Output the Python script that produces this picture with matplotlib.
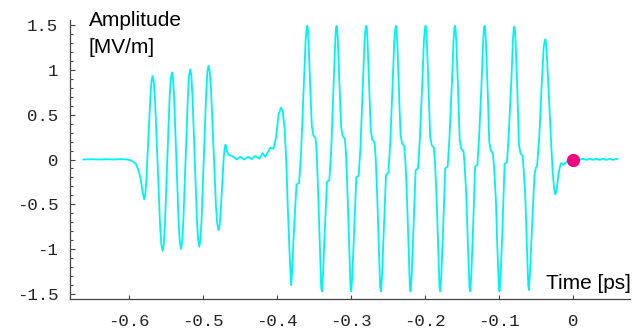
import numpy as np
import matplotlib
matplotlib.use("Agg")
import matplotlib.pyplot as plt
import matplotlib.ticker as ticker

# values (time in ps, amplitude in MV/m)
pre_t = [-0.6610, -0.6500, -0.6400, -0.6300, -0.6200, -0.6100, -0.6020]
pre_v = [0.000, 0.003, 0.000, 0.003, 0.000, 0.004, 0.000]

packet1_t = [-0.5970, -0.5930, -0.5900, -0.5865, -0.5835, -0.5810, -0.5788,
             -0.5774, -0.5760, -0.5732, -0.5703, -0.5689, -0.5675,
             -0.5658, -0.5641, -0.5608, -0.5574, -0.5557, -0.5540,
             -0.5524, -0.5509, -0.5477, -0.5446, -0.5430, -0.5414,
             -0.5399, -0.5384, -0.5353, -0.5323, -0.5307, -0.5292,
             -0.5276, -0.5261, -0.5230, -0.5198, -0.5183, -0.5167,
             -0.5152, -0.5137, -0.5106, -0.5076, -0.5060, -0.5045,
             -0.5029, -0.5014, -0.4983, -0.4951, -0.4936, -0.4920,
             -0.4903, -0.4886, -0.4853, -0.4819, -0.4802, -0.4785,
             -0.4773, -0.4761, -0.4738, -0.4714, -0.4702, -0.4690]
packet1_v = [-0.010, -0.030, -0.050, -0.120, -0.220, -0.360, -0.445,
             -0.393, -0.244, 0.243, 0.729, 0.879, 0.931,
             0.857, 0.645, -0.045, -0.734, -0.946, -1.020,
             -0.944, -0.728, -0.024, 0.680, 0.896, 0.972,
             0.897, 0.683, -0.013, -0.709, -0.923, -0.998,
             -0.922, -0.704, 0.004, 0.712, 0.930, 1.006,
             0.931, 0.716, 0.017, -0.682, -0.897, -0.972,
             -0.895, -0.676, 0.037, 0.750, 0.969, 1.046,
             0.976, 0.778, 0.130, -0.518, -0.716, -0.786,
             -0.750, -0.647, -0.311, 0.026, 0.129, 0.165]

gap_t = [-0.4670, -0.4649, -0.4604, -0.4560, -0.4537, -0.4492, -0.4438, -0.4388,
         -0.4334, -0.4289, -0.4231, -0.4190, -0.4154, -0.4087, -0.4042, -0.4010,
         -0.3974, -0.3942, -0.3920, -0.3893, -0.3870, -0.3848, -0.3825, -0.3805]
gap_v = [0.090, 0.050, 0.040, 0.015, 0.000, 0.030, 0.000, 0.030,
         0.005, 0.040, 0.010, 0.070, 0.030, 0.130, 0.120, 0.240,
         0.500, 0.578, 0.550, 0.350, -0.020, -0.580, -1.060, -1.400]

packet2_t = [-0.3795, -0.3766, -0.3732, -0.3697, -0.3671, -0.3631, -0.3609, -0.3595, -0.3587,
             # cycle 1
             -0.3579, -0.3570, -0.3547, -0.3525, -0.3504, -0.3475, -0.3459, -0.3438, -0.3417, -0.3399, -0.3389,
             -0.3375, -0.3352, -0.3321, -0.3289, -0.3265, -0.3229, -0.3209, -0.3199, -0.3191,
             # cycle 2
             -0.3183, -0.3174, -0.3151, -0.3129, -0.3108, -0.3079, -0.3063, -0.3042, -0.3021, -0.3003, -0.2993,
             -0.2979, -0.2956, -0.2925, -0.2893, -0.2869, -0.2833, -0.2813, -0.2799, -0.2791,
             # cycle 3
             -0.2783, -0.2774, -0.2751, -0.2729, -0.2708, -0.2679, -0.2663, -0.2642, -0.2621, -0.2603, -0.2592,
             -0.2578, -0.2555, -0.2524, -0.2492, -0.2468, -0.2432, -0.2412, -0.2398, -0.2390,
             # cycle 4
             -0.2382, -0.2373, -0.2350, -0.2328, -0.2307, -0.2278, -0.2262, -0.2241, -0.2220, -0.2202, -0.2192,
             -0.2178, -0.2155, -0.2124, -0.2092, -0.2068, -0.2032, -0.2012, -0.1998, -0.1990,
             # cycle 5
             -0.1982, -0.1973, -0.1950, -0.1928, -0.1907, -0.1878, -0.1862, -0.1841, -0.1820, -0.1802, -0.1792,
             -0.1778, -0.1755, -0.1724, -0.1692, -0.1668, -0.1632, -0.1612, -0.1601, -0.1593,
             # cycle 6
             -0.1585, -0.1576, -0.1552, -0.1529, -0.1507, -0.1477, -0.1461, -0.1439, -0.1418, -0.1397, -0.1387,
             -0.1373, -0.1351, -0.1321, -0.1290, -0.1267, -0.1232, -0.1212, -0.1201, -0.1193,
             # cycle 7
             -0.1185, -0.1176, -0.1153, -0.1130, -0.1109, -0.1080, -0.1064, -0.1042, -0.1021, -0.1001, -0.0991,
             -0.0977, -0.0954, -0.0923, -0.0891, -0.0867, -0.0831, -0.0811, -0.0800, -0.0792,
             # cycle 8
             -0.0784, -0.0775, -0.0752, -0.0730, -0.0709, -0.0680, -0.0664, -0.0643, -0.0622, -0.0604, -0.0594,
             -0.0580, -0.0554, -0.0520, -0.0500, -0.0484, -0.0455, -0.0419, -0.0395, -0.0382, -0.0374]
packet2_v = [-1.30, -0.78, -0.28, -0.26, 0.07, 0.89, 1.33, 1.46, 1.49,
             1.46, 1.33, 0.81, 0.37, 0.27, 0.24, 0.07, -0.42, -0.97, -1.42, -1.47,
             -1.30, -0.82, -0.25, -0.23, 0.08, 0.89, 1.33, 1.46, 1.49,
             1.46, 1.33, 0.81, 0.36, 0.26, 0.23, 0.06, -0.42, -0.97, -1.42, -1.47,
             -1.30, -0.82, -0.20, -0.18, 0.13, 0.89, 1.33, 1.46, 1.49,
             1.46, 1.33, 0.81, 0.32, 0.22, 0.19, 0.02, -0.42, -0.97, -1.42, -1.47,
             -1.30, -0.82, -0.17, -0.15, 0.16, 0.89, 1.33, 1.46, 1.49,
             1.46, 1.33, 0.81, 0.28, 0.18, 0.15, -0.02, -0.42, -0.97, -1.42, -1.47,
             -1.30, -0.82, -0.12, -0.10, 0.21, 0.89, 1.33, 1.46, 1.49,
             1.46, 1.33, 0.81, 0.26, 0.16, 0.13, -0.04, -0.42, -0.97, -1.42, -1.47,
             -1.30, -0.82, -0.10, -0.08, 0.23, 0.89, 1.33, 1.46, 1.49,
             1.46, 1.33, 0.81, 0.22, 0.12, 0.09, -0.08, -0.42, -0.97, -1.42, -1.47,
             -1.30, -0.82, -0.08, -0.06, 0.25, 0.89, 1.33, 1.46, 1.49,
             1.46, 1.33, 0.81, 0.20, 0.10, 0.07, -0.10, -0.42, -0.97, -1.42, -1.47,
             -1.30, -0.82, -0.05, -0.03, 0.28, 0.89, 1.33, 1.45, 1.48,
             1.45, 1.33, 0.81, 0.17, 0.07, 0.04, -0.13, -0.42, -0.97, -1.40, -1.455,
             -1.25, -0.79, -0.17, -0.09, -0.07, 0.25, 0.89, 1.25, 1.32, 1.34]

tail_t = [-0.0366, -0.0355, -0.0329, -0.0297, -0.0275, -0.0255, -0.0239, -0.0220, -0.0194,
          -0.0170, -0.0158, -0.0127, -0.0100, -0.0081, -0.0050, 0.0000,
          0.0045, 0.0090, 0.0135, 0.0180, 0.0225, 0.0270, 0.0315, 0.0360,
          0.0405, 0.0450, 0.0495, 0.0540, 0.0585, 0.0600]
tail_v = [1.32, 1.20, 0.78, 0.22, -0.12, -0.32, -0.39, -0.34, -0.15,
          -0.06, -0.04, -0.06, -0.04, -0.025, -0.01, 0.0,
          0.008, -0.004, 0.008, -0.004, 0.008, -0.004, 0.008, -0.004,
          0.008, -0.004, 0.008, -0.004, 0.006, 0.004]

marker_t = [0.0]
marker_v = [0.0]

time_ps = np.concatenate([pre_t, packet1_t, gap_t, packet2_t, tail_t])
amp = np.concatenate([pre_v, packet1_v, gap_v, packet2_v, tail_v])

x_ticks = [-0.6, -0.5, -0.4, -0.3, -0.2, -0.1, 0.0]
x_labels = ["-0.6", "-0.5", "-0.4", "-0.3", "-0.2", "-0.1", "0"]
y_ticks = [-1.5, -1.0, -0.5, 0.0, 0.5, 1.0, 1.5]
y_labels = ["-1.5", "-1", "-0.5", "0", "0.5", "1", "1.5"]

fig = plt.figure(figsize=(6.43, 3.33), dpi=100)
ax = fig.add_axes([70 / 643, 1 - 299 / 333, 560 / 643, 279 / 333])

ax.plot(time_ps, amp, color="#00f2f2", linewidth=1.3, zorder=2,
        solid_joinstyle="round")
ax.plot(marker_t, marker_v, "o", color="#f0047f", markersize=8.5, zorder=3, clip_on=False)

ax.set_xlim(-0.679, 0.077)
ax.set_ylim(-1.555, 1.555)

for side in ["top", "right"]:
    ax.spines[side].set_visible(False)
for side in ["left", "bottom"]:
    ax.spines[side].set_color("#444444")
    ax.spines[side].set_linewidth(0.9)

ax.set_xticks(x_ticks)
ax.set_xticklabels(x_labels)
ax.set_yticks(y_ticks)
ax.set_yticklabels(y_labels)
ax.yaxis.set_minor_locator(ticker.MultipleLocator(0.1))

ax.tick_params(axis="x", which="major", direction="in", length=2.7, width=0.8,
               color="#444444", pad=11)
ax.tick_params(axis="y", which="major", direction="in", length=3.6, width=0.8,
               color="#444444", pad=8.5)
ax.tick_params(axis="y", which="minor", direction="in", length=2.0, width=0.8,
               color="#444444")
for lab in ax.get_xticklabels() + ax.get_yticklabels():
    lab.set_fontfamily(["Liberation Mono", "DejaVu Sans Mono"])
    lab.set_fontsize(12.5)
    lab.set_color("#222222")

lab_font = dict(family=["Liberation Sans", "DejaVu Sans"], fontsize=15, color="black")
fig.text(89 / 643, 1 - 26 / 333, "Amplitude", va="baseline", ha="left", **lab_font)
fig.text(89 / 643, 1 - 52.7 / 333, "[MV/m]", va="baseline", ha="left", **lab_font)
fig.text(546.5 / 643, 1 - 289.3 / 333, "Time [ps]", va="baseline", ha="left", **lab_font)

fig.savefig("out.png", dpi=100)
